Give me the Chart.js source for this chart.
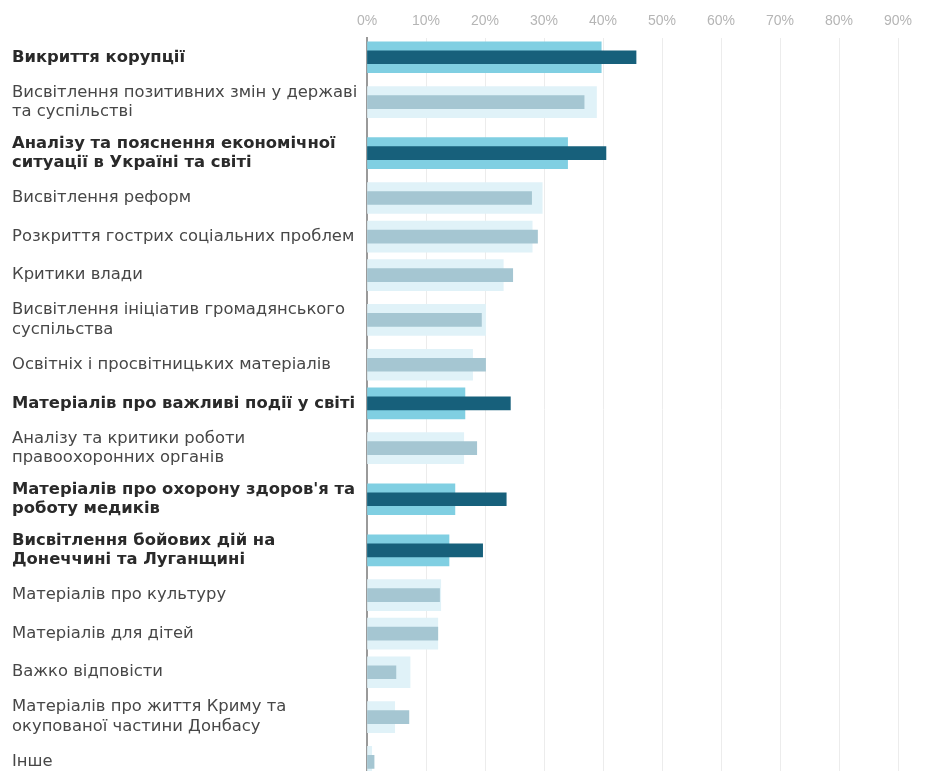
<!DOCTYPE html>
<html lang="uk">
<head>
<meta charset="utf-8">
<script src="https://cdn.jsdelivr.net/npm/chart.js@4.4.1/dist/chart.umd.min.js"></script>
<style>
  html, body { margin: 0; padding: 0; background: #fff; }
  #wrap { width: 950px; height: 771px; overflow: hidden; position: relative; }
  canvas { display: block; }
</style>
</head>
<body>
<div id="wrap"><canvas id="c" width="965" height="794"></canvas></div>
<script>
// Topics (multi-line labels are arrays of lines)
const categories = [
  ["Викриття корупції"],
  ["Висвітлення позитивних змін у державі", "та суспільстві"],
  ["Аналізу та пояснення економічної", "ситуації в Україні та світі"],
  ["Висвітлення реформ"],
  ["Розкриття гострих соціальних проблем"],
  ["Критики влади"],
  ["Висвітлення ініціатив громадянського", "суспільства"],
  ["Освітніх і просвітницьких матеріалів"],
  ["Матеріалів про важливі події у світі"],
  ["Аналізу та критики роботи", "правоохоронних органів"],
  ["Матеріалів про охорону здоров'я та", "роботу медиків"],
  ["Висвітлення бойових дій на", "Донеччині та Луганщині"],
  ["Матеріалів про культуру"],
  ["Матеріалів для дітей"],
  ["Важко відповісти"],
  ["Матеріалів про життя Криму та", "окупованої частини Донбасу"],
  ["Інше"]
];

// Topics drawn in bold / brighter colours
const highlighted = [true, false, true, false, false, false, false, false, true, false, true, true, false, false, false, false, false];

// Wide background bar (%)
const wideValues = [39.7, 38.9, 34.0, 29.7, 28.0, 23.1, 20.1, 17.9, 16.6, 16.4, 14.9, 13.9, 12.5, 12.0, 7.3, 4.7, 0.8];
// Narrow foreground bar (%)
const narrowValues = [45.6, 36.8, 40.5, 27.9, 28.9, 24.7, 19.4, 20.1, 24.3, 18.6, 23.6, 19.6, 12.3, 12.0, 4.9, 7.1, 1.2];

// Axis ticks (%)
const tickValues = [0, 10, 20, 30, 40, 50, 60, 70, 80, 90];

const COLORS = {
  wideOn: '#80cfe2',
  wideOff: '#e0f2f8',
  narrowOn: '#17607b',
  narrowOff: '#a5c6d2'
};

// Rows grow with the number of label lines, like table rows.
const ROW_ONE_LINE = 38.5;
const ROW_TWO_LINES = 51;
const rowCenters = [];
let rowTotal = 0;
categories.forEach(lines => {
  const h = lines.length > 1 ? ROW_TWO_LINES : ROW_ONE_LINE;
  rowCenters.push(rowTotal + h / 2);
  rowTotal += h;
});

const toPoints = (vals) => vals.map((v, i) => ({ x: v, y: rowCenters[i] }));

const ctx = document.getElementById('c').getContext('2d');
new Chart(ctx, {
  type: 'bar',
  data: {
    datasets: [
      {
        data: toPoints(wideValues),
        backgroundColor: highlighted.map(h => h ? COLORS.wideOn : COLORS.wideOff),
        barThickness: 31,
        grouped: false,
        order: 2
      },
      {
        data: toPoints(narrowValues),
        backgroundColor: highlighted.map(h => h ? COLORS.narrowOn : COLORS.narrowOff),
        barThickness: 13,
        grouped: false,
        order: 1
      }
    ]
  },
  options: {
    indexAxis: 'y',
    responsive: false,
    animation: false,
    devicePixelRatio: 1,
    layout: { padding: { left: 12, right: 8, top: 0, bottom: 0 } },
    plugins: {
      legend: { display: false },
      tooltip: { enabled: false }
    },
    scales: {
      x: {
        type: 'linear',
        position: 'top',
        min: 0,
        max: 100,
        afterBuildTicks: (scale) => {
          scale.ticks = tickValues.concat([100]).map(v => ({ value: v }));
        },
        afterFit: (scale) => { scale.height = 38; },
        grid: { color: '#ececec', lineWidth: 1, drawTicks: false },
        border: { display: false },
        ticks: {
          padding: 8,
          color: '#b5b5b5',
          font: { family: '"Liberation Sans Narrow", "Liberation Sans", Arial, sans-serif', size: 14 },
          callback: (v) => tickValues.includes(v) ? v + '%' : ''
        }
      },
      y: {
        type: 'linear',
        reverse: true,
        offset: false,
        min: 0,
        max: rowTotal,
        afterBuildTicks: (scale) => {
          scale.ticks = rowCenters.map(v => ({ value: v }));
        },
        afterFit: (scale) => { scale.width = 355; },
        grid: { display: false, drawTicks: false, offset: false },
        border: { display: true, color: '#9a9a9a', width: 2 },
        ticks: {
          crossAlign: 'far',
          autoSkip: false,
          callback: (v, i) => categories[i],
          color: (c) => highlighted[c.index] ? '#2a2a2a' : '#474747',
          font: (c) => ({
            family: '"DejaVu Sans", Verdana, sans-serif',
            size: 16.4,
            weight: highlighted[c.index] ? 'bold' : 'normal',
            lineHeight: 1.2
          })
        }
      }
    }
  }
});
</script>
</body>
</html>
